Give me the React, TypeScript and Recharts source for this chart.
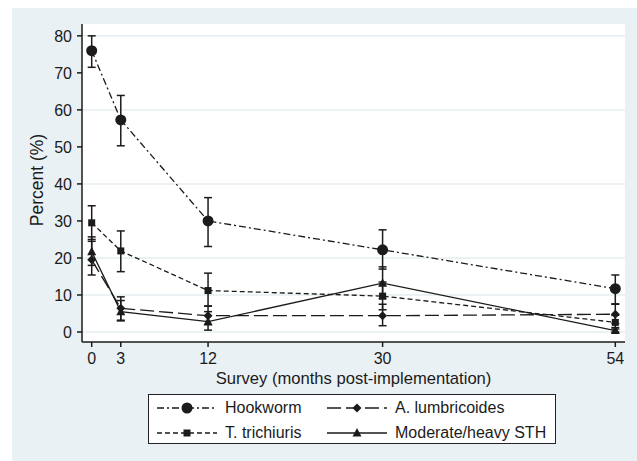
import React from "react";
import {
  LineChart,
  Line,
  XAxis,
  YAxis,
  CartesianGrid,
  ErrorBar,
} from "recharts";

// survey months
const months = [0, 3, 12, 30, 54];

// prevalence (%) and 95% CI per survey
const hookworm = [76, 57.3, 30, 22.2, 11.7];
const hookwormLo = [71.5, 50.3, 23.1, 17, 7.6];
const hookwormHi = [80, 63.9, 36.3, 27.6, 15.4];

const trichuris = [29.5, 21.9, 11.2, 9.7, 2.6];
const trichurisLo = [25, 16.3, 7, 6, 0.8];
const trichurisHi = [34.1, 27.3, 15.9, 13.5, 4.5];

const ascaris = [19.5, 6.4, 4.4, 4.4, 4.8];
const ascarisLo = [15.4, 3.2, 2, 1.7, 2.3];
const ascarisHi = [24.5, 9.5, 7, 7.5, 7.5];

const modHeavy = [21.7, 5.5, 2.8, 13.2, 0.4];
const modHeavyLo = [18, 3, 0.5, 9, 0];
const modHeavyHi = [25.7, 8.5, 5.5, 17.6, 1.2];

const yTicks = [0, 10, 20, 30, 40, 50, 60, 70, 80];
const gridValues = [0, 10, 20, 40, 60, 80];

const INK = "#1b1b1b";
const FONT = "'Liberation Sans', Arial, sans-serif";

const data = months.map((m, i) => ({
  month: m,
  hw: hookworm[i],
  hwErr: [hookworm[i] - hookwormLo[i], hookwormHi[i] - hookworm[i]],
  tt: trichuris[i],
  ttErr: [trichuris[i] - trichurisLo[i], trichurisHi[i] - trichuris[i]],
  al: ascaris[i],
  alErr: [ascaris[i] - ascarisLo[i], ascarisHi[i] - ascaris[i]],
  mh: modHeavy[i],
  mhErr: [modHeavy[i] - modHeavyLo[i], modHeavyHi[i] - modHeavy[i]],
}));

type Shape = "circle" | "square" | "diamond" | "triangle";

function markerEl(shape: Shape, cx: number, cy: number, key?: any) {
  if (shape === "circle") return <circle key={key} cx={cx} cy={cy} r={5.5} fill={INK} />;
  if (shape === "square")
    return <rect key={key} x={cx - 3.5} y={cy - 3.5} width={7} height={7} fill={INK} />;
  if (shape === "diamond")
    return (
      <polygon
        key={key}
        points={`${cx},${cy - 4.5} ${cx + 4.5},${cy} ${cx},${cy + 4.5} ${cx - 4.5},${cy}`}
        fill={INK}
      />
    );
  return (
    <polygon
      key={key}
      points={`${cx},${cy - 5} ${cx + 4.5},${cy + 3.5} ${cx - 4.5},${cy + 3.5}`}
      fill={INK}
    />
  );
}

const dotFor = (shape: Shape) => (p: any) => markerEl(shape, p.cx, p.cy, p.index);

const series = [
  { key: "hw", name: "Hookworm", shape: "circle" as Shape, dash: "7 3 2 3" },
  { key: "tt", name: "T. trichiuris", shape: "square" as Shape, dash: "5 3" },
  { key: "al", name: "A. lumbricoides", shape: "diamond" as Shape, dash: "14 5" },
  { key: "mh", name: "Moderate/heavy STH", shape: "triangle" as Shape, dash: undefined },
];

function LegendSample({ shape, dash }: { shape: Shape; dash?: string }) {
  return (
    <svg width={60} height={14} style={{ display: "block" }}>
      <line x1={0} y1={7} x2={60} y2={7} stroke={INK} strokeWidth={1.3} strokeDasharray={dash} />
      {markerEl(shape, 30, 7)}
    </svg>
  );
}

export default function App() {
  const legendPos = [
    { left: 8, top: 6 },
    { left: 8, top: 31 },
    { left: 178, top: 6 },
    { left: 178, top: 31 },
  ];

  return (
    <div
      style={{
        position: "absolute",
        left: 0,
        top: 0,
        width: 637,
        height: 461,
        background: "#fff",
        fontFamily: FONT,
      }}
    >
      <div
        style={{
          position: "absolute",
          left: 12,
          top: 8,
          right: 0,
          bottom: 0,
          background: "#eaf1f4",
        }}
      />
      <div style={{ position: "absolute", left: 0, top: 0 }}>
        <LineChart
          width={637}
          height={461}
          data={data}
          margin={{ top: 24, right: 12, left: 12, bottom: 77 }}
        >
          <CartesianGrid
            fill="#fff"
            stroke="#e6eef1"
            strokeWidth={1.5}
            vertical={false}
            horizontalValues={gridValues}
          />
          <XAxis
            dataKey="month"
            type="number"
            domain={[-1, 55]}
            ticks={months}
            interval={0}
            height={42}
            tickSize={5}
            tickMargin={6}
            stroke={INK}
            strokeWidth={1.5}
            tick={{ fill: INK, fontSize: 16, fontFamily: FONT }}
            label={{
              value: "Survey (months post-implementation)",
              position: "insideBottom",
              offset: 0,
              fill: INK,
              fontSize: 16.6,
              fontFamily: FONT,
            }}
          />
          <YAxis
            type="number"
            domain={[-2.7, 83.2]}
            ticks={yTicks}
            interval={0}
            width={70}
            tickSize={5}
            tickMargin={5}
            stroke={INK}
            strokeWidth={1.5}
            tick={{ fill: INK, fontSize: 16, fontFamily: FONT }}
            label={{
              content: ({ viewBox }: any) => {
                const cx = viewBox.x + 25;
                const cy = viewBox.y + viewBox.height / 2 - 3;
                return (
                  <text
                    x={cx}
                    y={cy}
                    transform={`rotate(-90, ${cx}, ${cy})`}
                    textAnchor="middle"
                    dominantBaseline="central"
                    fill={INK}
                    fontSize={17.5}
                    fontFamily={FONT}
                  >
                    Percent (%)
                  </text>
                );
              },
            }}
          />
          {series.map((s) => (
            <Line
              key={s.key}
              type="linear"
              dataKey={s.key}
              name={s.name}
              stroke={INK}
              strokeWidth={1.3}
              strokeDasharray={s.dash}
              dot={dotFor(s.shape)}
              activeDot={false}
              isAnimationActive={false}
            >
              <ErrorBar
                dataKey={s.key + "Err"}
                width={4}
                stroke={INK}
                strokeWidth={1.5}
                direction="y"
                isAnimationActive={false}
              />
            </Line>
          ))}
        </LineChart>
      </div>
      <div
        style={{
          position: "absolute",
          left: 148,
          top: 394,
          width: 406,
          height: 48,
          background: "#fff",
          border: "1.5px solid #222",
        }}
      >
        {series.map((s, i) => (
          <div
            key={s.key}
            style={{
              position: "absolute",
              left: legendPos[i].left,
              top: legendPos[i].top,
              display: "flex",
              alignItems: "center",
              fontSize: 16,
              color: INK,
              whiteSpace: "nowrap",
              lineHeight: "14px",
            }}
          >
            <LegendSample shape={s.shape} dash={s.dash} />
            <span style={{ marginLeft: 8 }}>{s.name}</span>
          </div>
        ))}
      </div>
    </div>
  );
}
